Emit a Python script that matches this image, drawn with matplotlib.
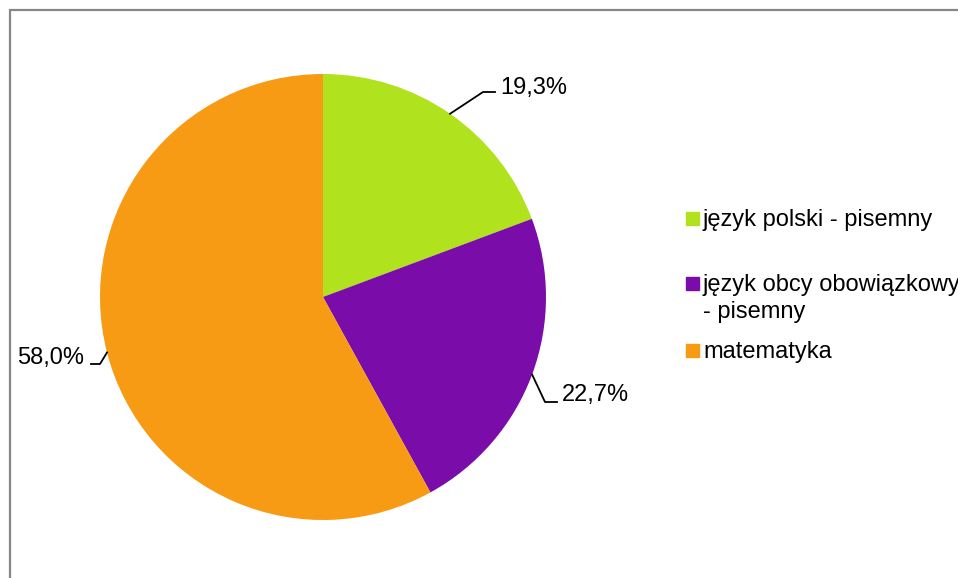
import matplotlib.pyplot as plt
from matplotlib.patches import Rectangle
import numpy as np

plt.rcParams['font.family'] = ['Liberation Sans', 'DejaVu Sans']

# dane
kategorie = ['język polski - pisemny', 'język obcy obowiązkowy - pisemny', 'matematyka']
etykiety_legendy = ['język polski - pisemny', 'język obcy obowiązkowy\n- pisemny', 'matematyka']
udzialy = [19.3, 22.7, 58.0]
etykiety = ['19,3%', '22,7%', '58,0%']
kolory = ['#B1E21E', '#7A0CA9', '#F79A14']

W, H = 958, 578
fig = plt.figure(figsize=(W / 100, H / 100), dpi=100)

# pozycja koła (piksele)
cx, cy, r = 323, 297, 223
ax = fig.add_axes([(cx - r) / W, (H - cy - r) / H, 2 * r / W, 2 * r / H])
wedges, _ = ax.pie(udzialy, colors=kolory, startangle=90, counterclock=False,
                   radius=1, wedgeprops=dict(linewidth=0))
ax.set_xlim(-1, 1)
ax.set_ylim(-1, 1)
ax.set_aspect('equal')
ax.axis('off')

# linie odniesienia: (łokieć x, łokieć y, koniec x, tekst x, tekst y, wyrównanie) w pikselach
linie = [
    (483, 92, 495, 500, 88, 'left'),
    (545, 402, 557, 562, 395, 'left'),
    (100, 364, 91, 84, 358, 'right'),
]

def px(x, y):
    return (x - cx) / r, (cy - y) / r

for w, tekst, (ex, ey, kx, tx, ty, ha) in zip(wedges, etykiety, linie):
    kat = np.deg2rad((w.theta1 + w.theta2) / 2)
    x0, y0 = np.cos(kat), np.sin(kat)
    x1, y1 = px(ex, ey)
    x2, _ = px(kx, ey)
    ax.plot([x0, x1, x2], [y0, y1, y1], color='black', lw=1.3, clip_on=False)
    xt, yt = px(tx, ty)
    ax.text(xt, yt, tekst, ha=ha, va='center', fontsize=17, clip_on=False)

# legenda (ręcznie)
kw_y = [218, 283, 350]
for kolor, lab, y in zip(kolory, etykiety_legendy, kw_y):
    fig.add_artist(Rectangle((686 / W, (H - y - 6.5) / H), 13 / W, 13 / H,
                             transform=fig.transFigure, color=kolor))
    fig.text(703 / W, (H - y + 9) / H, lab, ha='left', va='top', fontsize=17,
             linespacing=1.27)

# ramka
fig.add_artist(Rectangle((9.5 / W, -0.1), 1.2, (H - 9.5) / H + 0.1,
                         transform=fig.transFigure, fill=False,
                         edgecolor='#878787', linewidth=1.6, clip_on=False))

plt.savefig('out.png', dpi=100)
